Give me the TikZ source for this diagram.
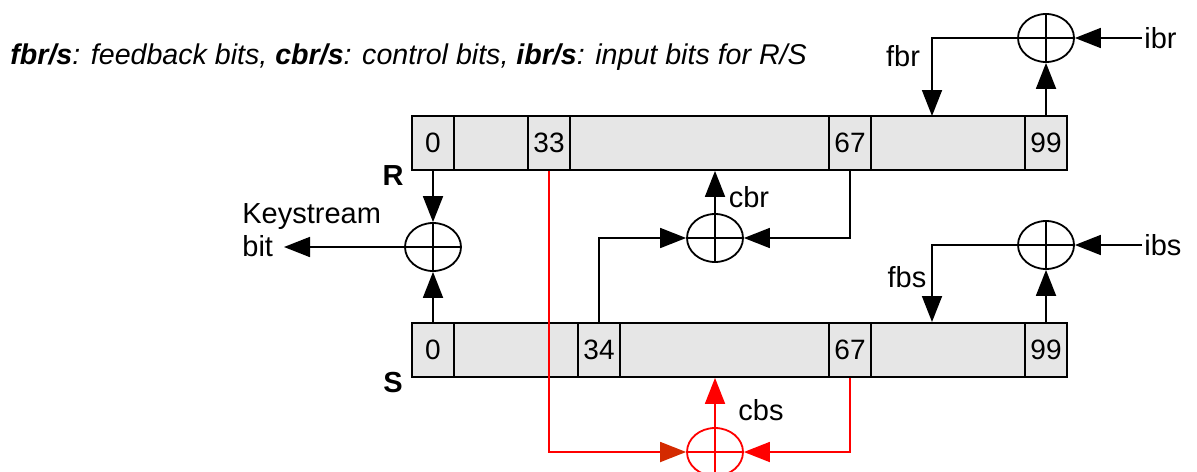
\documentclass[tikz,border=0pt]{standalone}
\usepackage{fontspec}
\setmainfont{Liberation Sans}
\usetikzlibrary{shapes.geometric,arrows.meta}

\definecolor{regfill}{HTML}{E6E6E6}
\definecolor{tipred}{HTML}{D42A00}

\tikzset{
  regbox/.style={draw,fill=regfill,line width=0.9pt,minimum width=327pt,minimum height=27pt,inner sep=0pt},
  cellbox/.style={draw,fill=regfill,line width=0.9pt,minimum width=21pt,minimum height=27pt,inner sep=0pt,font=\fontsize{14}{16}\selectfont},
  xorgate/.style={draw=#1,ellipse,line width=0.9pt,minimum width=28pt,minimum height=24pt,inner sep=0pt,
    path picture={\draw[#1,line width=0.9pt] (path picture bounding box.north) -- (path picture bounding box.south)
      (path picture bounding box.west) -- (path picture bounding box.east);}},
  xorgate/.default=black,
  arr/.style={line width=0.9pt,-{Triangle[length=13pt,width=10pt]}},
  lbl/.style={font=\fontsize{14.5}{16.5}\selectfont,inner sep=1pt},
}

\begin{document}
\begin{tikzpicture}[x=0.5pt,y=-0.5pt]
\useasboundingbox (0,0) rectangle (1197,471);

% legend
\node[lbl,anchor=west,font=\fontsize{14.3}{16.5}\selectfont\itshape] (legend) at (8,57)
  {\textbf{fbr/s}: feedback bits, \textbf{cbr/s}: control bits, \textbf{ibr/s}: input bits for R/S};

% register R
\node[regbox] (R) at (739,143) {};
\node[cellbox] (r0) at (433,143) {0};
\node[cellbox] (r33) at (549,143) {33};
\node[cellbox] (r67) at (850,143) {67};
\node[cellbox] (r99) at (1046,143) {99};
\node[lbl,font=\fontsize{14.5}{16.5}\selectfont\bfseries] (Rname) at (393,176) {R};

% register S
\node[regbox] (S) at (739,350) {};
\node[cellbox] (s0) at (433,350) {0};
\node[cellbox] (s34) at (599,350) {34};
\node[cellbox] (s67) at (850,350) {67};
\node[cellbox] (s99) at (1046,350) {99};
\node[lbl,font=\fontsize{14.5}{16.5}\selectfont\bfseries] (Sname) at (393,383) {S};

% xor gates
\node[xorgate] (xr) at (1046,38) {};
\node[xorgate] (xs) at (1046,245) {};
\node[xorgate] (xk) at (433,247) {};
\node[xorgate] (xc) at (715,238) {};
\node[xorgate=red] (xcs) at (715,452) {};

% labels
\node[lbl,anchor=west] (ibr) at (1142,38) {ibr};
\node[lbl,anchor=west] (ibs) at (1142,245) {ibs};
\node[lbl] (fbr) at (903,56) {fbr};
\node[lbl] (fbs) at (907,277) {fbs};
\node[lbl] (cbr) at (749,197) {cbr};
\node[lbl] (cbs) at (761,410) {cbs};
\node[lbl,align=left,anchor=west] (ksbit) at (240,230) {Keystream\\bit};

\coordinate (fbrin) at (932,116);
\coordinate (fbsin) at (932,322);
\coordinate (kout) at (284,247);

% feedback R
\draw[arr] (r99.north) -- (xr.south);
\draw[arr] (ibr.west) -- (xr.east);
\draw[arr] (xr.west) -| (fbrin);
% feedback S
\draw[arr] (s99.north) -- (xs.south);
\draw[arr] (ibs.west) -- (xs.east);
\draw[arr] (xs.west) -| (fbsin);
% keystream
\draw[arr] (r0.south) -- (xk.north);
\draw[arr] (s0.north) -- (xk.south);
\draw[arr] (xk.west) -- (kout);
% control R
\draw[arr] (xc.north) -- (xc.north |- R.south);
\draw[arr] (r67.south) |- (xc.east);
\draw[arr] (s34.north) |- (xc.west);
% control S
\draw[arr,red] (xcs.north) -- (xcs.north |- S.south);
\draw[red,line width=0.9pt,-{Triangle[length=13pt,width=10pt,color=tipred]}] (r33.south) |- (xcs.west);
\draw[arr,red] (s67.south) |- (xcs.east);
\end{tikzpicture}
\end{document}
